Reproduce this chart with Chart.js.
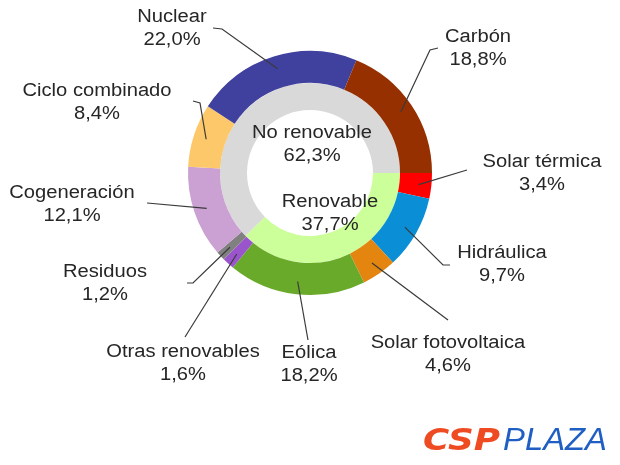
<!DOCTYPE html>
<html>
<head>
<meta charset="utf-8">
<script src="https://cdn.jsdelivr.net/npm/chart.js@4"></script>
<style>
  html, body { margin: 0; padding: 0; background: #ffffff; }
  #wrap { width: 620px; height: 465px; position: relative; }
</style>
</head>
<body>
<div id="wrap"><canvas id="c" width="620" height="465"></canvas></div>
<script>
// ---- data ----
const categories = ['Solar térmica', 'Hidráulica', 'Solar fotovoltaica', 'Eólica', 'Otras renovables',
                    'Residuos', 'Cogeneración', 'Ciclo combinado', 'Nuclear', 'Carbón'];
const shares = [3.4, 9.7, 4.6, 18.2, 1.6, 1.2, 12.1, 8.4, 22.0, 18.8];
const groupLabels = ['Renovable', 'No renovable'];
const groupShares = [37.7, 62.3];

// ---- styles ----
const sliceColors = ['#ff0000', '#0a8fd6', '#e3850e', '#6aaa2a', '#9a55cc',
                     '#808080', '#cba0d2', '#fcc86a', '#40409e', '#963000'];
const groupColors = ['#ccff99', '#d9d9d9'];

// label layout: text centre and leader elbow points (start near the text)
const labelLayout = {
  'Carbón':             { tx: 478, ty: 37, pts: [[438, 48], [430, 50]] },
  'Solar térmica':      { tx: 542, ty: 162, pts: [[467, 170]] },
  'Hidráulica':         { tx: 502, ty: 253, pts: [[450, 265], [443, 265]] },
  'Solar fotovoltaica': { tx: 448, ty: 343, pts: [[448, 320]] },
  'Eólica':             { tx: 309, ty: 353, pts: [[308, 340]] },
  'Otras renovables':   { tx: 183, ty: 352, pts: [[185, 337]] },
  'Residuos':           { tx: 105, ty: 272, pts: [[187, 283], [193, 283]] },
  'Cogeneración':       { tx: 72,  ty: 193, pts: [[147, 203]] },
  'Ciclo combinado':    { tx: 97,  ty: 91,  pts: [[193, 101], [200, 103]] },
  'Nuclear':            { tx: 172, ty: 17,  pts: [[213, 28], [222, 29]] }
};
const groupLayout = {
  'No renovable': { tx: 312, ty: 133 },
  'Renovable':    { tx: 330, ty: 202 }
};

const FONT = "18px 'Liberation Sans', Arial, sans-serif";
const XSCALE = 1.12;
const LINE_H = 23.5;
const TEXT_COLOR = '#262626';

function fmt(v) { return v.toFixed(1).replace('.', ',') + '%'; }

function drawText(ctx, txt, x, y) {
  ctx.save();
  ctx.translate(x, y);
  ctx.scale(XSCALE, 1);
  ctx.fillText(txt, 0, 0);
  ctx.restore();
}

const labelPlugin = {
  id: 'labels',
  afterDraw(chart) {
    const ctx = chart.ctx;
    const meta = chart.getDatasetMeta(0);
    ctx.save();
    // leader lines
    ctx.strokeStyle = '#3a3a3a';
    ctx.lineWidth = 1.2;
    meta.data.forEach((arc, i) => {
      const lay = labelLayout[categories[i]];
      const p = arc.getProps(['x', 'y', 'startAngle', 'endAngle', 'innerRadius', 'outerRadius'], true);
      const mid = (p.startAngle + p.endAngle) / 2;
      const r = p.innerRadius + 0.6 * (p.outerRadius - p.innerRadius);
      const ex = p.x + Math.cos(mid) * r;
      const ey = p.y + Math.sin(mid) * r;
      ctx.beginPath();
      ctx.moveTo(lay.pts[0][0], lay.pts[0][1]);
      for (let k = 1; k < lay.pts.length; k++) ctx.lineTo(lay.pts[k][0], lay.pts[k][1]);
      ctx.lineTo(ex, ey);
      ctx.stroke();
    });
    // outer labels
    ctx.fillStyle = TEXT_COLOR;
    ctx.font = FONT;
    ctx.textAlign = 'center';
    ctx.textBaseline = 'middle';
    categories.forEach((name, i) => {
      const lay = labelLayout[name];
      drawText(ctx, name, lay.tx, lay.ty);
      drawText(ctx, fmt(shares[i]), lay.tx, lay.ty + LINE_H);
    });
    // inner group labels
    groupLabels.forEach((name, i) => {
      const lay = groupLayout[name];
      drawText(ctx, name, lay.tx, lay.ty);
      drawText(ctx, fmt(groupShares[i]), lay.tx, lay.ty + LINE_H);
    });
    // logo
    ctx.textAlign = 'left';
    ctx.textBaseline = 'alphabetic';
    ctx.fillStyle = '#ef4b22';
    ctx.font = "italic bold 31px 'DejaVu Sans', sans-serif";
    let w = ctx.measureText('CSP').width;
    ctx.save(); ctx.translate(423, 450); ctx.scale(77 / w, 1); ctx.fillText('CSP', 0, 0); ctx.restore();
    ctx.fillStyle = '#1f5fc4';
    ctx.font = "italic 31px 'Liberation Sans', sans-serif";
    w = ctx.measureText('PLAZA').width;
    ctx.save(); ctx.translate(503, 450); ctx.scale(104 / w, 1); ctx.fillText('PLAZA', 0, 0); ctx.restore();
    ctx.restore();
  }
};

new Chart(document.getElementById('c'), {
  type: 'doughnut',
  data: {
    labels: categories,
    datasets: [
      { data: shares, backgroundColor: sliceColors, borderWidth: 0, weight: 32 },
      { data: groupShares, backgroundColor: groupColors, borderWidth: 0, weight: 27 }
    ]
  },
  options: {
    responsive: false,
    devicePixelRatio: 1,
    animation: false,
    rotation: 90,
    cutout: 63,
    layout: { padding: { left: 188, right: 188, top: 51, bottom: 170 } },
    plugins: { legend: { display: false }, tooltip: { enabled: false } }
  },
  plugins: [labelPlugin]
});
</script>
</body>
</html>
